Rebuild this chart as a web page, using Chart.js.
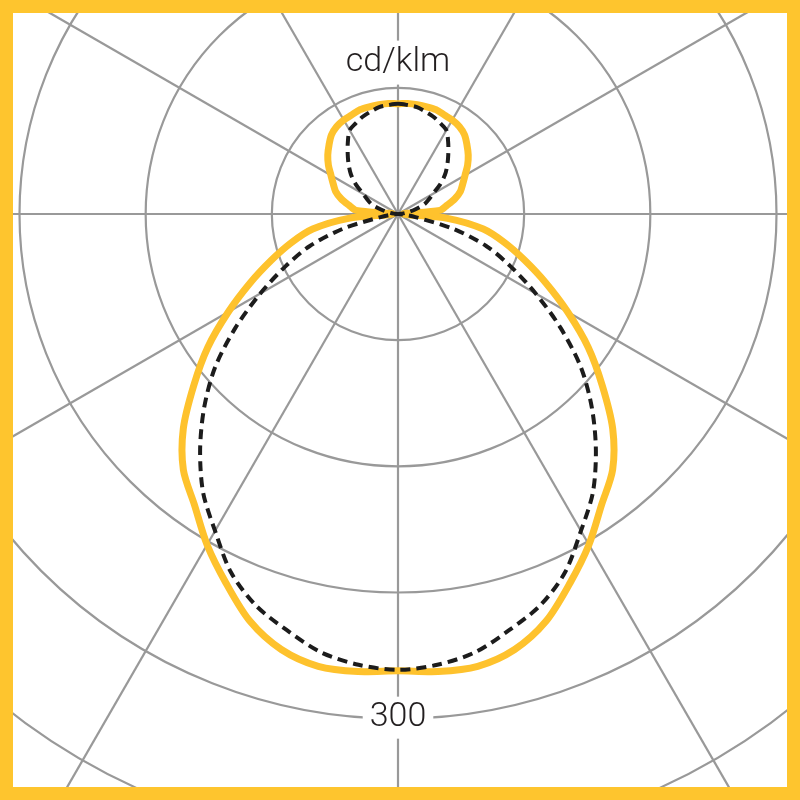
<!DOCTYPE html>
<html><head><meta charset="utf-8">
<script src="https://cdn.jsdelivr.net/npm/chart.js@4.4.1/dist/chart.umd.min.js"></script>
<style>
html,body{margin:0;padding:0;background:#fff;}
#frame{position:relative;width:800px;height:800px;overflow:hidden;background:#fff;}
#chart{position:absolute;left:-359px;top:-543px;}
#border{position:absolute;left:0;top:0;width:800px;height:800px;box-sizing:border-box;border:13px solid #FEC52E;pointer-events:none;}
</style></head><body>
<div id="frame"><canvas id="chart" width="1514" height="1514"></canvas><div id="border"></div></div>
<script>
// angle (degrees, clockwise from top) of each sample
const angles = [0,5,10,15,20,25,30,35,40,45,50,55,60,65,70,75,80,85,90,95,100,105,110,115,120,125,130,135,140,145,150,155,160,165,170,175,
  180,185,190,195,200,205,210,215,220,225,230,235,240,245,250,255,260,265,270,275,280,285,290,295,300,305,310,315,320,325,330,335,340,345,350,355];
// solid yellow curve, cd/klm
const solidValues = [65.5,66,66,66,66,65,64.5,63.5,61.5,58,54.5,50.5,46,42.5,39.5,35,29.5,25,3,29.5,51.5,65.5,80,97,116.5,138,158.5,180.5,198.5,211,227,242,257.5,268,273,273,
  271.5,273,273,268,257.5,242,227,211,198.5,180.5,158.5,138,116.5,97,80,65.5,51.5,29.5,3,25,29.5,35,39.5,42.5,46,50.5,54.5,58,61.5,63.5,64.5,65,66,66,66,66];
// dashed black curve, cd/klm
const dashedValues = [65.5,65,64.5,63,61.5,59.5,57.5,52,46.5,41.5,36.5,30.5,24,20,16.5,10.5,6,2.5,0.5,3,10.5,34,56,74,94.5,118,142,163,183,202,217.5,235,247.5,256,264.5,269,
  271,269,264.5,256,247.5,235,217.5,202,183,163,142,118,94.5,74,56,34,10.5,3,0.5,2.5,6,10.5,16.5,20,24,30.5,36.5,41.5,46.5,52,57.5,59.5,61.5,63,64.5,65];
const ringStep = 75;
const ringMax = 450;
const tickLabels = [300];
const unitLabel = 'cd/klm';
const unitLabelValue = 90;

const labelPlugin = {
  id: 'labels',
  afterDraw(chart) {
    const s = chart.scales.r;
    const ctx = chart.ctx;
    ctx.save();
    ctx.font = '300 34px Roboto, "Liberation Sans", Arial, sans-serif';
    ctx.textAlign = 'center';
    ctx.textBaseline = 'middle';
    tickLabels.forEach(v => {
      const d = s.getDistanceFromCenterForValue(v);
      const x = s.xCenter, y = s.yCenter + d - 1;
      const w = ctx.measureText(String(v)).width + 14;
      ctx.fillStyle = '#fff';
      ctx.fillRect(x - w / 2, y - 21, w, 42);
      ctx.fillStyle = '#231f20';
      ctx.fillText(String(v), x, y);
    });
    {
      const d = s.getDistanceFromCenterForValue(unitLabelValue);
      const x = s.xCenter, y = s.yCenter - d;
      const w = ctx.measureText(unitLabel).width + 14;
      ctx.fillStyle = '#fff';
      ctx.fillRect(x - w / 2, y - 22, w, 44);
      ctx.fillStyle = '#231f20';
      ctx.fillText(unitLabel, x, y);
    }
    ctx.restore();
  }
};

new Chart(document.getElementById('chart'), {
  type: 'radar',
  data: {
    labels: angles,
    datasets: [
      { data: dashedValues, borderColor: '#1c1c1c', borderWidth: 4, borderDash: [10, 6], fill: false, pointRadius: 0, tension: 0.3 },
      { data: solidValues, borderColor: '#FEC22D', borderWidth: 7, fill: false, pointRadius: 0, tension: 0.3 }
    ]
  },
  options: {
    responsive: false,
    devicePixelRatio: 1,
    animation: false,
    layout: { padding: 0 },
    plugins: { legend: { display: false }, tooltip: { enabled: false } },
    scales: {
      r: {
        min: 0, max: ringMax,
        ticks: { display: false, stepSize: ringStep },
        pointLabels: { display: false },
        grid: { circular: true, color: '#999999', lineWidth: 2.2 },
        angleLines: {
          display: true,
          color: ctx => (ctx.index % 6 === 0 ? '#999999' : 'rgba(0,0,0,0)'),
          lineWidth: ctx => (ctx.index % 6 === 0 ? 2.2 : 0)
        }
      }
    }
  },
  plugins: [labelPlugin]
});
</script>
</body></html>
